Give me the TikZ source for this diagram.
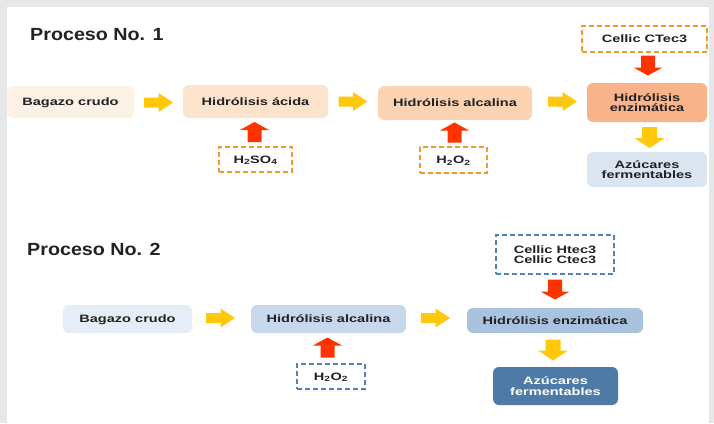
\documentclass[tikz,border=0pt]{standalone}
\usepackage{fontspec}
\setmainfont{Liberation Sans}[FakeStretch=1.36]
\newfontfamily\titlefont{Liberation Sans}[FakeStretch=1.12]
\definecolor{bggray}{HTML}{E6E7E9}
\definecolor{txt}{HTML}{222222}
\definecolor{pA}{HTML}{FDF0E4}
\definecolor{pB}{HTML}{FDE2CC}
\definecolor{pC}{HTML}{FBD3B3}
\definecolor{pD}{HTML}{F9B38A}
\definecolor{bA}{HTML}{E5EDF6}
\definecolor{bB}{HTML}{C8D8EC}
\definecolor{bC}{HTML}{A8C2E0}
\definecolor{bD}{HTML}{4E7AA8}
\definecolor{bE}{HTML}{DBE5F1}
\definecolor{yel}{HTML}{FFC80A}
\definecolor{redar}{HTML}{FF3300}
\definecolor{dor}{HTML}{F39A2E}
\definecolor{dbl}{HTML}{5582B4}
\begin{document}
\begin{tikzpicture}[x=1pt,y=-1pt,
  box/.style={rounded corners=6pt, inner sep=0pt, align=center, text depth=0pt,
    font=\bfseries\fontsize{10.7}{10.6}\selectfont, text=txt},
  dbox/.style={box, rounded corners=0pt, fill=white, line width=1.8pt,
    dash pattern=on 5pt off 3pt},
  ttl/.style={anchor=west, inner sep=0pt, font=\titlefont\bfseries\fontsize{17.6}{17.6}\selectfont, text=txt},
  pics/yar/.style={code={\fill[yel] (-14.5,-5) -- (0,-5) -- (0,-9.5) -- (14.5,0) -- (0,9.5) -- (0,5) -- (-14.5,5) -- cycle;}},
  pics/yad/.style={code={\fill[yel] (-10.5,-7.5) -- (0.5,-7.5) -- (0.5,-15) -- (10.5,0) -- (0.5,15) -- (0.5,7.5) -- (-10.5,7.5) -- cycle;}},
  pics/rar/.style={code={\fill[redar] (-10,-7) -- (2,-7) -- (2,-14.5) -- (10,0) -- (2,14.5) -- (2,7) -- (-10,7) -- cycle;}}
]
\useasboundingbox (0,0) rectangle (714,423);
\fill[bggray] (0,0) rectangle (714,423);
\fill[white] (7,7) rectangle (709,423);

% Proceso 1
\node[ttl] (t1) at (30,35) {Proceso No. 1};
\node[box, fill=pA, minimum width=127pt, minimum height=32pt] (b1) at (70.5,102) {Bagazo crudo};
\node[box, fill=pB, minimum width=145pt, minimum height=33pt] (a1) at (255.5,101.5) {Hidrólisis ácida};
\node[box, fill=pC, minimum width=154pt, minimum height=34pt] (l1) at (455,103) {Hidrólisis alcalina};
\node[box, fill=pD, minimum width=120pt, minimum height=39pt] (e1) at (647,102.5) {Hidrólisis\\enzimática};
\node[box, fill=bE, minimum width=120pt, minimum height=35pt] (z1) at (647,169.5) {Azúcares\\fermentables};
\node[dbox, draw=dor, minimum width=125pt, minimum height=26pt] (c1) at (644.5,39) {Cellic CTec3};
\node[dbox, draw=dor, minimum width=73pt, minimum height=25pt] (s1) at (255.5,159.5) {H\textsubscript{2}SO\textsubscript{4}};
\node[dbox, draw=dor, minimum width=67pt, minimum height=26pt] (o1) at (453.5,160) {H\textsubscript{2}O\textsubscript{2}};
\pic at (158.5,102.5) {yar};
\pic at (353,101.5) {yar};
\pic at (562.5,101.5) {yar};
\pic[rotate=-90] at (649.5,137.5) {yad};
\pic[rotate=-90] at (648,65.5) {rar};
\pic[rotate=90] at (254.5,132) {rar};
\pic[rotate=90] at (454.5,132.5) {rar};

% Proceso 2
\node[ttl] (t2) at (27,249) {Proceso No. 2};
\node[box, fill=bA, minimum width=129pt, minimum height=28pt] (b2) at (127.5,319) {Bagazo crudo};
\node[box, fill=bB, minimum width=155pt, minimum height=28pt] (l2) at (328.5,319) {Hidrólisis alcalina};
\node[box, fill=bC, minimum width=176pt, minimum height=25pt] (e2) at (555,320.5) {Hidrólisis enzimática};
\node[box, fill=bD, text=white, minimum width=125pt, minimum height=38pt] (z2) at (555.5,386) {Azúcares\\fermentables};
\node[dbox, draw=dbl, minimum width=118pt, minimum height=39pt] (c2) at (555,254.5) {Cellic Htec3\\Cellic Ctec3};
\node[dbox, draw=dbl, minimum width=68pt, minimum height=25pt] (o2) at (331,376.5) {H\textsubscript{2}O\textsubscript{2}};
\pic at (220.5,318) {yar};
\pic at (435.5,318) {yar};
\pic[rotate=-90] at (555,289.5) {rar};
\pic[rotate=-90] at (553,350) {yad};
\pic[rotate=90] at (327.5,347.5) {rar};
\end{tikzpicture}
\end{document}
